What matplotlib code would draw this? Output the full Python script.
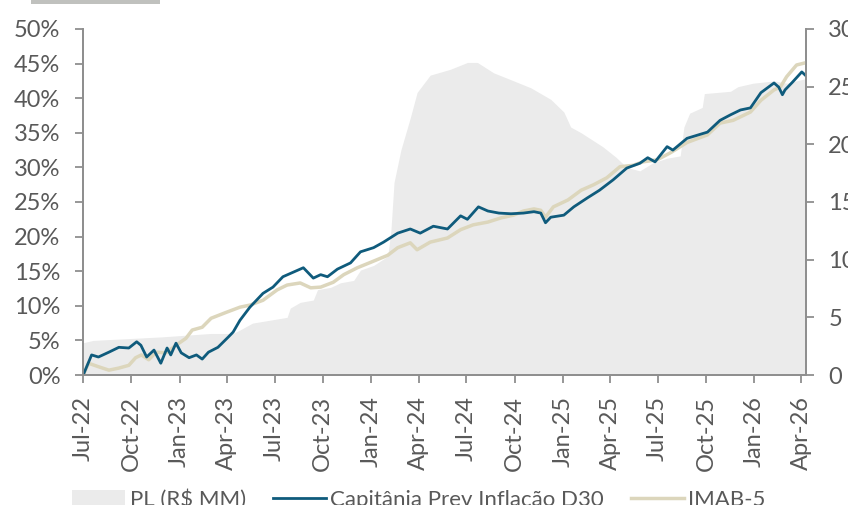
import pandas as pd
import matplotlib
matplotlib.use("Agg")
import matplotlib.pyplot as plt
import matplotlib.dates as mdates
from matplotlib.patches import Rectangle, Patch
from matplotlib.lines import Line2D

# fund cumulative return (%)
fund_dates = ["2022-07-01", "2022-07-17", "2022-07-30", "2022-08-19", "2022-09-07", "2022-09-26",
              "2022-10-11", "2022-10-19", "2022-10-30", "2022-11-13", "2022-11-26", "2022-12-08",
              "2022-12-15", "2022-12-25", "2023-01-04", "2023-01-19", "2023-02-02", "2023-02-13",
              "2023-02-25", "2023-03-15", "2023-04-04", "2023-04-13", "2023-04-26", "2023-05-15",
              "2023-06-09", "2023-06-28", "2023-07-17", "2023-08-25", "2023-09-13", "2023-09-27",
              "2023-10-10", "2023-10-29", "2023-11-23", "2023-12-12", "2024-01-06", "2024-01-25",
              "2024-02-21", "2024-03-16", "2024-04-04", "2024-04-29", "2024-05-26", "2024-06-20",
              "2024-07-03", "2024-07-24", "2024-08-11", "2024-09-01", "2024-09-24", "2024-10-18",
              "2024-11-07", "2024-11-20", "2024-11-29", "2024-12-09", "2025-01-03", "2025-01-22",
              "2025-02-17", "2025-03-12", "2025-04-07", "2025-05-03", "2025-05-28", "2025-06-12",
              "2025-06-26", "2025-07-19", "2025-07-30", "2025-08-26", "2025-10-04", "2025-10-28",
              "2025-11-17", "2025-12-06", "2025-12-25", "2026-01-14", "2026-02-08", "2026-02-17",
              "2026-02-24", "2026-03-01", "2026-03-15", "2026-04-02", "2026-04-09"]
fund_vals = [0.0, 2.9, 2.6, 3.3, 4.0, 3.9,
             4.8, 4.3, 2.6, 3.6, 1.7, 3.9,
             2.9, 4.6, 3.2, 2.5, 2.9, 2.3,
             3.3, 4.0, 5.5, 6.2, 7.9, 9.8,
             11.8, 12.7, 14.2, 15.5, 14.0, 14.5,
             14.2, 15.3, 16.2, 17.8, 18.4, 19.2,
             20.5, 21.1, 20.5, 21.5, 21.1, 23.0,
             22.5, 24.3, 23.7, 23.4, 23.3, 23.4,
             23.6, 23.4, 22.0, 22.8, 23.1, 24.3,
             25.6, 26.7, 28.2, 29.9, 30.6, 31.4,
             30.8, 33.0, 32.5, 34.2, 35.1, 36.8,
             37.6, 38.3, 38.6, 40.8, 42.2, 41.6,
             40.5, 41.2, 42.3, 43.8, 43.3]

# IMA-B 5 cumulative return (%)
imab_dates = ["2022-07-01", "2022-07-11", "2022-07-30", "2022-08-19", "2022-09-07", "2022-09-26",
              "2022-10-09", "2022-10-20", "2022-11-03", "2022-11-17", "2022-12-06", "2022-12-25",
              "2023-01-13", "2023-01-25", "2023-02-13", "2023-03-02", "2023-03-29", "2023-04-26",
              "2023-05-15", "2023-06-09", "2023-07-06", "2023-07-25", "2023-08-19", "2023-09-08",
              "2023-09-27", "2023-10-21", "2023-11-10", "2023-12-06", "2024-01-01", "2024-02-02",
              "2024-02-21", "2024-03-16", "2024-03-29", "2024-04-23", "2024-05-26", "2024-06-20",
              "2024-07-14", "2024-08-11", "2024-09-05", "2024-09-29", "2024-10-18", "2024-11-07",
              "2024-11-20", "2024-11-29", "2024-12-14", "2025-01-11", "2025-02-05", "2025-03-01",
              "2025-03-26", "2025-04-20", "2025-05-15", "2025-06-03", "2025-06-30", "2025-07-25",
              "2025-08-26", "2025-10-04", "2025-10-28", "2025-11-22", "2025-12-25", "2026-01-14",
              "2026-02-08", "2026-02-20", "2026-03-04", "2026-03-23", "2026-04-08"]
imab_vals = [0.0, 1.7, 1.2, 0.7, 1.0, 1.4,
             2.5, 2.9, 2.2, 3.3, 3.2, 4.3,
             5.3, 6.5, 6.9, 8.2, 9.0, 9.8,
             10.1, 10.8, 12.3, 13.0, 13.3, 12.6,
             12.7, 13.4, 14.5, 15.5, 16.3, 17.3,
             18.4, 19.1, 18.1, 19.2, 19.8, 21.0,
             21.7, 22.1, 22.7, 23.1, 23.7, 24.0,
             23.8, 22.8, 24.3, 25.3, 26.7, 27.5,
             28.5, 30.1, 30.3, 30.8, 31.1, 32.1,
             33.6, 34.7, 36.4, 36.8, 38.0, 39.7,
             41.2, 41.6, 43.1, 44.8, 45.1]

# net assets (R$ MM)
pl_dates = ["2022-07-01", "2022-07-20", "2022-11-26", "2023-03-01", "2023-04-13", "2023-04-26",
            "2023-05-20", "2023-07-25", "2023-07-31", "2023-08-19", "2023-09-13", "2023-09-21",
            "2023-10-16", "2023-11-04", "2023-11-29", "2023-12-12", "2024-01-06", "2024-02-02",
            "2024-02-08", "2024-02-14", "2024-02-27", "2024-03-16", "2024-03-29", "2024-04-23",
            "2024-05-31", "2024-07-03", "2024-07-22", "2024-08-22", "2024-09-24", "2024-11-01",
            "2024-12-09", "2025-01-03", "2025-01-16", "2025-02-05", "2025-03-18", "2025-04-12",
            "2025-05-03", "2025-05-28", "2025-06-22", "2025-07-19", "2025-08-13", "2025-08-20",
            "2025-08-31", "2025-09-24", "2025-09-28", "2025-11-17", "2025-12-01", "2025-12-30",
            "2026-02-08", "2026-03-04", "2026-04-10"]
pl_vals = [2.8, 3.0, 3.3, 3.6, 3.6, 3.9,
           4.5, 5.0, 5.8, 6.3, 6.5, 7.4,
           7.6, 8.0, 8.2, 9.1, 9.5, 10.3,
           12.5, 16.7, 19.5, 22.3, 24.5, 26.0,
           26.5, 27.1, 27.1, 26.2, 25.6, 24.9,
           23.9, 22.8, 21.5, 21.0, 19.8, 18.9,
           18.0, 17.7, 18.4, 18.8, 19.0, 21.5,
           22.7, 23.2, 24.4, 24.6, 25.0, 25.3,
           25.5, 25.3, 25.7]

fund_name = "Capitânia Prev Inflação D30"
bench_name = "IMAB-5"
pl_name = "PL (R$ MM)"

blue = "#0f5b7c"
beige = "#dcd6bc"
area = "#ebebeb"
axis_c = "#8f8f8f"
text_c = "#595959"

plt.rcParams["font.family"] = ["Lato", "DejaVu Sans"]
plt.rcParams["font.size"] = 17

fig = plt.figure(figsize=(8.48, 5.05), dpi=100)
ax = fig.add_axes([82.7 / 848, 1 - 375 / 505, (806 - 82.7) / 848, 346 / 505])
ax2 = ax.twinx()
ax.set_zorder(ax2.get_zorder() + 1)
ax.patch.set_visible(False)

pl_x = pd.to_datetime(pl_dates)
ax2.fill_between(pl_x, 0, pl_vals, color=area, lw=0)
ax.plot(pd.to_datetime(imab_dates), imab_vals, color=beige, lw=2.5, solid_joinstyle="round")
ax.plot(pd.to_datetime(fund_dates), fund_vals, color=blue, lw=2.0, solid_joinstyle="round")

ax.set_ylim(0, 50)
ax2.set_ylim(0, 30)
ax.set_yticks(range(0, 51, 5))
ax.set_yticklabels([f"{v}%" for v in range(0, 51, 5)])
ax2.set_yticks(range(0, 31, 5))
ax.set_xlim(pd.Timestamp("2022-06-30"), pd.Timestamp("2026-04-10"))
ax.xaxis.set_major_locator(mdates.MonthLocator(bymonth=[1, 4, 7, 10]))
ax.xaxis.set_major_formatter(mdates.DateFormatter("%b-%y"))

for a in (ax, ax2):
    a.spines["top"].set_visible(False)
    for s in ("left", "right", "bottom"):
        a.spines[s].set_color(axis_c)
        a.spines[s].set_linewidth(1.3)
    a.tick_params(colors=axis_c, labelcolor=text_c, length=6, width=1.3, pad=10)
ax.tick_params(axis="x", rotation=90, pad=9, labelcolor=text_c)

handles = [Patch(facecolor=area, edgecolor="none"),
           Line2D([], [], color=blue, lw=2),
           Line2D([], [], color=beige, lw=2.5)]
fig.legend(handles, [pl_name, fund_name, bench_name], loc="center", ncol=3,
           bbox_to_anchor=(0.494, 0.011), frameon=False, handlelength=2.4,
           handletextpad=0.2, columnspacing=1.2, labelcolor=text_c, fontsize=16)

# header bar remnant at top
fig.patches.append(Rectangle((31 / 848, 1 - 4 / 505), 129 / 848, 4 / 505,
                             transform=fig.transFigure, color="#c0c1be", lw=0))

fig.savefig("out.png", dpi=100)
